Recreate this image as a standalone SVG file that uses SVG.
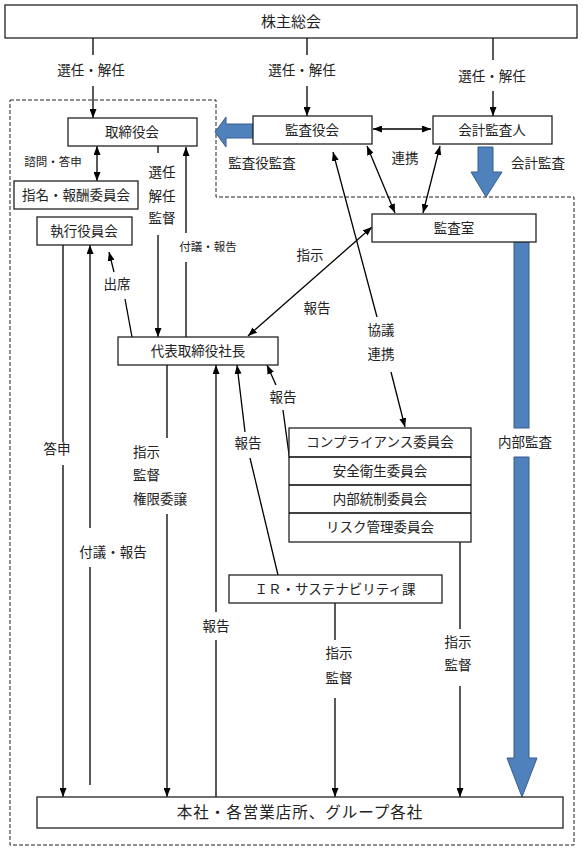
<svg xmlns="http://www.w3.org/2000/svg" width="583" height="851" viewBox="0 0 583 851">
<defs>
<marker id="ah" viewBox="0 0 9 7" refX="9" refY="3.5" markerWidth="9" markerHeight="7" markerUnits="userSpaceOnUse" orient="auto-start-reverse">
<path d="M0,0 L9,3.5 L0,7 z" fill="#000"/>
</marker>
</defs>
<style>
.box{fill:#fff;stroke:#222;stroke-width:1.3}
.t{font-family:"Liberation Serif","Noto Sans CJK JP",serif;font-size:13.5px;fill:#222;text-anchor:middle;dominant-baseline:central}
.s{font-size:11.5px}
.l{text-anchor:start}
.ln{stroke:#000;stroke-width:1.3;fill:none}
.a{marker-end:url(#ah)}
.d{marker-start:url(#ah);marker-end:url(#ah)}
.blue{fill:#4F81BD;stroke:#385D8A;stroke-width:1}
.dash{fill:none;stroke:#222;stroke-width:1;stroke-dasharray:4 2}
</style>
<rect width="583" height="851" fill="#fff"/>
<polygon class="dash" points="10,100 216,100 216,197 574,197 574,845 10,845"/>

<g id="connectors">
<!-- from 株主総会 -->
<line class="ln" x1="93" y1="38" x2="93" y2="55"/>
<line class="ln a" x1="93" y1="86" x2="93" y2="118"/>
<line class="ln" x1="307" y1="38" x2="307" y2="55"/>
<line class="ln a" x1="307" y1="86" x2="307" y2="116"/>
<line class="ln" x1="493" y1="38" x2="493" y2="60"/>
<line class="ln a" x1="493" y1="91" x2="493" y2="116"/>
<!-- 取締役会 area -->
<line class="ln d" x1="97" y1="146" x2="97" y2="181"/>
<line class="ln" x1="158" y1="146" x2="158" y2="153"/>
<line class="ln a" x1="158" y1="235" x2="158" y2="337"/>
<line class="ln a" x1="186" y1="233" x2="186" y2="147"/>
<line class="ln" x1="186" y1="337" x2="186" y2="262"/>
<!-- 出席 -->
<line class="ln" x1="132" y1="337" x2="125" y2="299"/>
<line class="ln a" x1="114" y1="272" x2="109" y2="252"/>
<!-- 監査 -->
<line class="ln d" x1="373" y1="129" x2="431" y2="129"/>
<line class="ln d" x1="367" y1="146" x2="395" y2="213"/>
<line class="ln d" x1="440" y1="146" x2="423" y2="213"/>
<line class="ln d" x1="248" y1="336" x2="372" y2="227"/>
<!-- 協議 連携 -->
<line class="ln" x1="377" y1="317" x2="333" y2="152" marker-end="url(#ah)"/>
<line class="ln a" x1="391" y1="372" x2="405" y2="427"/>
<!-- 執行役員会 -->
<line class="ln" x1="63" y1="245" x2="63" y2="442"/>
<line class="ln a" x1="63" y1="465" x2="63" y2="797"/>
<line class="ln a" x1="90" y1="528" x2="90" y2="245"/>
<line class="ln" x1="90" y1="785" x2="90" y2="567"/>
<!-- 代表 down -->
<line class="ln" x1="167" y1="365" x2="167" y2="438"/>
<line class="ln a" x1="167" y1="514" x2="167" y2="797"/>
<line class="ln a" x1="216" y1="612" x2="216" y2="365"/>
<line class="ln" x1="216" y1="797" x2="216" y2="640"/>
<line class="ln a" x1="245" y1="432" x2="237" y2="365"/>
<line class="ln" x1="250" y1="458" x2="278" y2="575"/>
<line class="ln a" x1="276" y1="385" x2="267" y2="365"/>
<line class="ln" x1="283" y1="410" x2="290" y2="462"/>
<!-- IR and committees down -->
<line class="ln" x1="335" y1="603" x2="335" y2="640"/>
<line class="ln a" x1="335" y1="698" x2="335" y2="797"/>
<line class="ln" x1="460" y1="542" x2="460" y2="629"/>
<line class="ln a" x1="460" y1="686" x2="460" y2="797"/>
<!-- blue arrows -->
<polygon class="blue" points="253,124 226,124 226,117 215,132 226,147 226,138 253,138"/>
<polygon class="blue" points="478,147 493,147 493,172 502,172 486,197 471,172 478,172"/>
<rect class="blue" x="514" y="242" width="15" height="186"/>
<polygon class="blue" points="514,457 529,457 529,758 537,758 522,797 507,758 514,758"/>
</g>

<g id="shareholders"><rect class="box" x="5" y="5" width="572" height="33"/><text class="t" x="291" y="22" style="font-size:15px">株主総会</text></g>
<g id="board"><rect class="box" x="68" y="118" width="129" height="28"/><text class="t" x="132" y="132">取締役会</text></g>
<g id="auditors"><rect class="box" x="253" y="116" width="119" height="28"/><text class="t" x="312" y="130">監査役会</text></g>
<g id="accountant"><rect class="box" x="433" y="116" width="119" height="28"/><text class="t" x="492" y="130">会計監査人</text></g>
<g id="nomination"><rect class="box" x="14" y="181" width="124" height="28"/><text class="t" x="76" y="195">指名・報酬委員会</text></g>
<g id="executive"><rect class="box" x="37" y="217" width="95" height="28"/><text class="t" x="84" y="231">執行役員会</text></g>
<g id="audit-office"><rect class="box" x="372" y="214" width="164" height="28"/><text class="t" x="454" y="228">監査室</text></g>
<g id="president"><rect class="box" x="118" y="337" width="160" height="28"/><text class="t" x="198" y="351">代表取締役社長</text></g>
<g id="committees">
<rect class="box" x="289" y="428" width="182" height="114"/>
<line class="ln" x1="289" y1="457" x2="471" y2="457"/>
<line class="ln" x1="289" y1="485" x2="471" y2="485"/>
<line class="ln" x1="289" y1="513" x2="471" y2="513"/>
<text class="t" x="380" y="442.5">コンプライアンス委員会</text>
<text class="t" x="380" y="471">安全衛生委員会</text>
<text class="t" x="380" y="499">内部統制委員会</text>
<text class="t" x="380" y="527.5">リスク管理委員会</text>
</g>
<g id="ir"><rect class="box" x="229" y="575" width="213" height="28"/><text class="t" x="335" y="589">ＩＲ・サステナビリティ課</text></g>
<g id="head-office"><rect class="box" x="37" y="797" width="526" height="31"/><text class="t" x="300" y="812" style="font-size:15.5px;letter-spacing:1px">本社・各営業店所、グループ各社</text></g>

<g id="labels">
<text class="t" x="91" y="70">選任・解任</text>
<text class="t" x="302" y="70">選任・解任</text>
<text class="t" x="492" y="76">選任・解任</text>
<text class="t s" x="53" y="162">諮問・答申</text>
<text class="t" x="162" y="172">選任</text>
<text class="t" x="162" y="196">解任</text>
<text class="t" x="162" y="218">監督</text>
<text class="t s" x="208" y="247">付議・報告</text>
<text class="t" x="262" y="163">監査役監査</text>
<text class="t" x="405" y="158">連携</text>
<text class="t" x="538" y="163">会計監査</text>
<text class="t" x="117" y="284">出席</text>
<text class="t" x="310" y="255">指示</text>
<text class="t" x="317" y="308">報告</text>
<text class="t" x="381" y="330">協議</text>
<text class="t" x="381" y="354">連携</text>
<text class="t" x="283" y="397">報告</text>
<text class="t" x="525" y="442">内部監査</text>
<text class="t" x="57" y="449">答申</text>
<text class="t" x="248" y="443">報告</text>
<text class="t l" x="133" y="452">指示</text>
<text class="t l" x="133" y="475">監督</text>
<text class="t l" x="133" y="499">権限委譲</text>
<text class="t" x="113" y="552">付議・報告</text>
<text class="t" x="216" y="626">報告</text>
<text class="t" x="339" y="653">指示</text>
<text class="t" x="339" y="678">監督</text>
<text class="t" x="458" y="642">指示</text>
<text class="t" x="458" y="665">監督</text>
</g>
</svg>
